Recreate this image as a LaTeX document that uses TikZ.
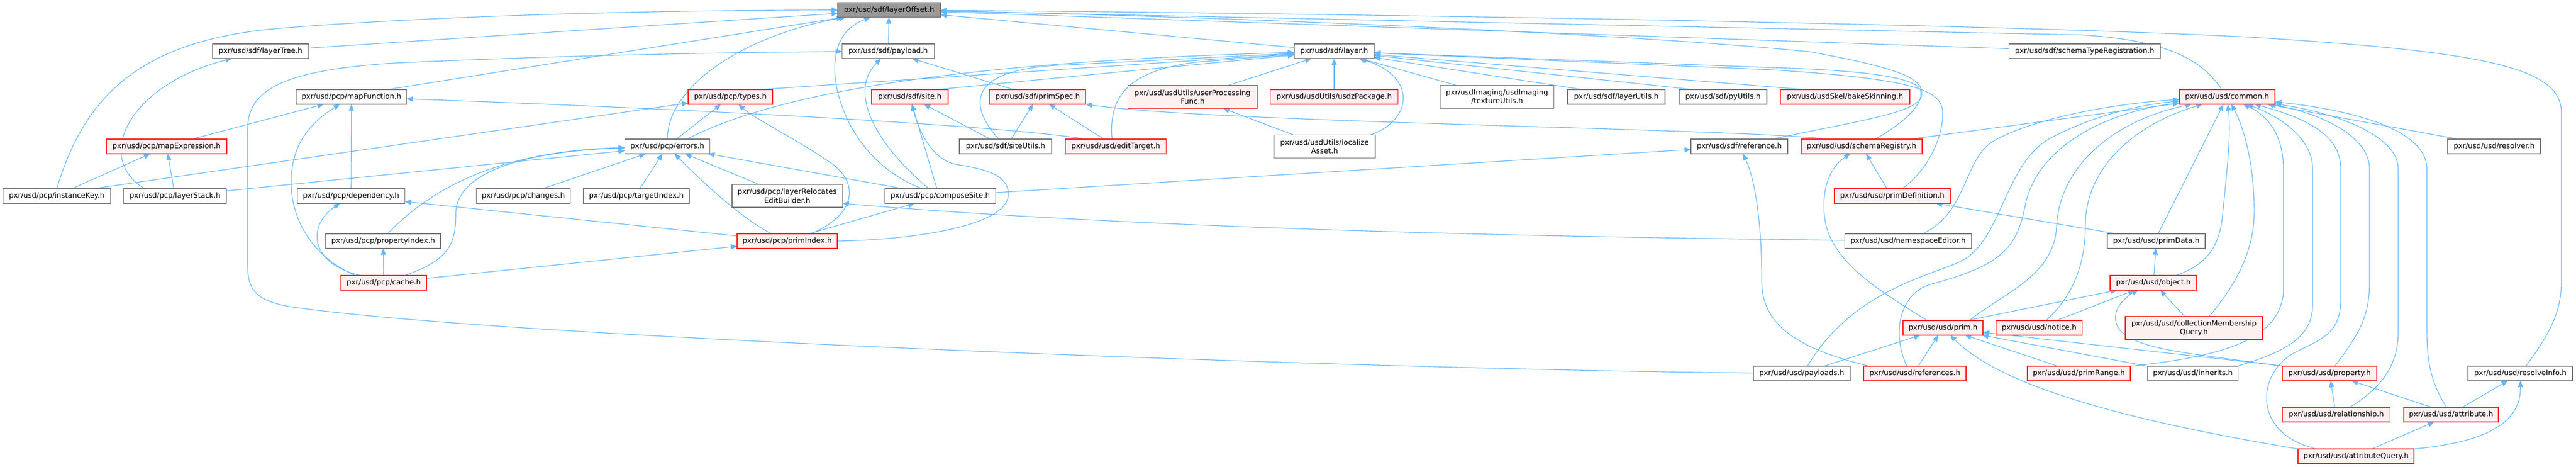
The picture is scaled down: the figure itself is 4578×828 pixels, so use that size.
\documentclass[tikz,border=0pt]{standalone}
\usepackage{fontspec}
\newfontfamily\dv{DejaVu Sans}
\usetikzlibrary{arrows.meta}
\definecolor{edgeblue}{HTML}{63B8FF}
\definecolor{boxgray}{HTML}{7A7A7A}
\definecolor{redfill}{HTML}{FFF0F0}
\definecolor{boxred}{HTML}{FF2424}
\definecolor{rootfill}{HTML}{999999}
\definecolor{rootdraw}{HTML}{666666}
\pgfdeclarelayer{bg}
\pgfsetlayers{bg,main}
\tikzset{
  nb/.style={draw=boxgray, fill=white, line width=1.1pt, minimum height=19.5pt, inner sep=0pt, outer sep=0pt, align=center, font=\dv\fontsize{9.7pt}{11.3pt}\selectfont, text=black},
  rb/.style={nb, draw=boxred, fill=redfill},
  rootbox/.style={nb, draw=rootdraw, fill=rootfill},
  two/.style={minimum height=30.5pt},
  wd/.style={minimum width=#1*0.75pt},
  edge/.style={draw=edgeblue, line width=0.85pt, -{Triangle[length=8.5pt,width=7pt]}},
}
\begin{document}
\begin{tikzpicture}[x=0.75pt,y=-0.75pt]
\begin{pgfonlayer}{bg}
\fill[white] (0,0) rectangle (4578,828);
\end{pgfonlayer}
\useasboundingbox (0,0) rectangle (4578,828);
% row 1
\node[rootbox, wd=182] (layerOffset) at (1580,17.7) {pxr/usd/sdf/layerOffset.h};
% row 2
\node[nb, wd=171] (layerTree) at (463,91) {pxr/usd/sdf/layerTree.h};
\node[nb, wd=164] (payload) at (1578.5,91) {pxr/usd/sdf/payload.h};
\node[nb, wd=142] (layer) at (2371,91) {pxr/usd/sdf/layer.h};
\node[nb, wd=269] (schemaTypeRegistration) at (3704.7,91) {pxr/usd/sdf/schemaTypeRegistration.h};
% row 3
\node[nb, wd=196] (mapFunction) at (624.5,172) {pxr/usd/pcp/mapFunction.h};
\node[rb, wd=150] (types) at (1298,172) {pxr/usd/pcp/types.h};
\node[rb, wd=136] (site) at (1617,172) {pxr/usd/sdf/site.h};
\node[rb, wd=171] (primSpec) at (1844,172) {pxr/usd/sdf/primSpec.h};
\node[rb, two, wd=230] (userProcessingFunc) at (2119.5,172) {pxr/usd/usdUtils/userProcessing\\Func.h};
\node[rb, wd=227] (usdzPackage) at (2371,172) {pxr/usd/usdUtils/usdzPackage.h};
\node[nb, two, wd=202] (textureUtils) at (2660.6,172) {pxr/usdImaging/usdImaging\\/textureUtils.h};
\node[nb, wd=173] (layerUtils) at (2872.5,172) {pxr/usd/sdf/layerUtils.h};
\node[nb, wd=155.5] (pyUtils) at (3062,172) {pxr/usd/sdf/pyUtils.h};
\node[rb, wd=230] (bakeSkinning) at (3279,172) {pxr/usd/usdSkel/bakeSkinning.h};
\node[rb, wd=170] (common) at (3958,172) {pxr/usd/usd/common.h};
% row 4
\node[rb, wd=214] (mapExpression) at (296,260) {pxr/usd/pcp/mapExpression.h};
\node[nb, wd=151] (errors) at (1186,260) {pxr/usd/pcp/errors.h};
\node[nb, wd=164] (siteUtils) at (1787,260) {pxr/usd/sdf/siteUtils.h};
\node[rb, wd=179] (editTarget) at (1983,260) {pxr/usd/usd/editTarget.h};
\node[nb, two, wd=180] (localizeAsset) at (2354,260) {pxr/usd/usdUtils/localize\\Asset.h};
\node[nb, wd=172] (reference) at (3091,260) {pxr/usd/sdf/reference.h};
\node[rb, wd=215] (schemaRegistry) at (3308.3,260) {pxr/usd/usd/schemaRegistry.h};
\node[nb, wd=165] (resolver) at (4432.5,260) {pxr/usd/usd/resolver.h};
% row 5
\node[nb, wd=191.5] (instanceKey) at (101,348) {pxr/usd/pcp/instanceKey.h};
\node[nb, wd=183] (layerStack) at (311,348) {pxr/usd/pcp/layerStack.h};
\node[nb, wd=191] (dependency) at (624,348) {pxr/usd/pcp/dependency.h};
\node[nb, wd=167] (changes) at (930,348) {pxr/usd/pcp/changes.h};
\node[nb, wd=188] (targetIndex) at (1131,348) {pxr/usd/pcp/targetIndex.h};
\node[nb, two, wd=196.5] (layerRelocatesEditBuilder) at (1399,347.7) {pxr/usd/pcp/layerRelocates\\EditBuilder.h};
\node[nb, wd=196.6] (composeSite) at (1671,348) {pxr/usd/pcp/composeSite.h};
\node[rb, wd=206] (primDefinition) at (3363,348) {pxr/usd/usd/primDefinition.h};
% row 6
\node[nb, wd=204] (propertyIndex) at (681,428) {pxr/usd/pcp/propertyIndex.h};
\node[rb, wd=178] (primIndex) at (1399,428) {pxr/usd/pcp/primIndex.h};
\node[nb, wd=225] (namespaceEditor) at (3391,428) {pxr/usd/usd/namespaceEditor.h};
\node[nb, wd=174] (primData) at (3832,428) {pxr/usd/usd/primData.h};
% row 7
\node[rb, wd=152] (cache) at (682,502) {pxr/usd/pcp/cache.h};
\node[rb, wd=154] (object) at (3827,502) {pxr/usd/usd/object.h};
% row 8
\node[rb, wd=142] (prim) at (3453,582) {pxr/usd/usd/prim.h};
\node[rb, wd=153] (notice) at (3624,582) {pxr/usd/usd/notice.h};
\node[rb, two, wd=244] (CMQ) at (3899,582.5) {pxr/usd/usd/collectionMembership\\Query.h};
% row 9
\node[nb, wd=172] (payloads) at (3202,663) {pxr/usd/usd/payloads.h};
\node[rb, wd=182] (references) at (3403,663) {pxr/usd/usd/references.h};
\node[rb, wd=183] (primRange) at (3694.5,663) {pxr/usd/usd/primRange.h};
\node[nb, wd=161] (inherits) at (3897,663) {pxr/usd/usd/inherits.h};
\node[rb, wd=168] (property) at (4140,663) {pxr/usd/usd/property.h};
\node[nb, wd=186] (resolveInfo) at (4479,663) {pxr/usd/usd/resolveInfo.h};
% row 10
\node[rb, wd=191] (relationship) at (4152,736) {pxr/usd/usd/relationship.h};
\node[rb, wd=168] (attribute) at (4356,736) {pxr/usd/usd/attribute.h};
% row 11
\node[rb, wd=206] (attributeQuery) at (4187,810) {pxr/usd/usd/attributeQuery.h};

\begin{pgfonlayer}{bg}
% into layerOffset
\draw[edge] (layerTree) -- (layerOffset);
\draw[edge] (payload) -- (layerOffset);
\draw[edge] (layer) -- (layerOffset);
\draw[edge] ([xshift=48pt]mapFunction.north) -- (layerOffset);
\draw[edge] (errors.north) .. controls (1186,150) and (1330,60) .. (layerOffset);
\draw[edge] (instanceKey.north) .. controls (150,170) and (250,70) .. (500,50) .. controls (800,26) and (1200,18) .. (layerOffset);
\draw[edge] ([xshift=-24pt]composeSite.north) .. controls (1520,290) and (1478,170) .. (1484,110) .. controls (1488,65) and (1510,45) .. (layerOffset);
\draw[edge] ([xshift=-7pt]common.north) .. controls (3915,110) and (3860,72) .. (3700,62) -- (layerOffset);
\draw[edge] (schemaTypeRegistration) -- (layerOffset);
\draw[edge] ([xshift=7.5pt]resolveInfo.north) .. controls (4525,600) and (4552,560) .. (4552,500) -- (4552,200) .. controls (4552,120) and (4420,92) .. (4000,66) .. controls (3500,40) and (2200,22) .. (layerOffset);
\draw[edge] ([xshift=44pt]reference.north) .. controls (3300,215) and (3410,200) .. (3415,170) .. controls (3420,140) and (3380,122) .. (3217,92) .. controls (2900,60) and (2200,30) .. (layerOffset);
% layerTree, payload
\draw[edge] ([xshift=-40.5pt]layerStack.north) .. controls (165,280) and (230,150) .. (layerTree);
\draw[edge] (payloads) .. controls (2400,655) and (900,600) .. (520,545) .. controls (455,535) and (440,515) .. (440,470) -- (440,230) .. controls (440,160) and (500,125) .. (700,112) .. controls (1000,98) and (1300,93) .. (payload);
\draw[edge] (primSpec) -- (payload);
\draw[edge] ([xshift=-15pt]composeSite.north) .. controls (1560,260) and (1505,165) .. (payload);
% into layer
\draw[edge] ([xshift=38pt]types.north) -- (layer);
\draw[edge] ([xshift=26pt]errors.north) .. controls (1380,165) and (1700,110) .. (layer);
\draw[edge] ([xshift=36pt]site.north) -- (layer);
\draw[edge] ([xshift=-9pt]siteUtils.north) .. controls (1715,180) and (1725,120) .. (1900,115) -- (layer);
\draw[edge] ([xshift=-5pt]editTarget.north) .. controls (1970,175) and (2000,125) .. (2130,110) -- (layer);
\draw[edge] ([xshift=47pt]userProcessingFunc.north) -- (layer);
\draw[edge] (usdzPackage) -- (layer);
\draw[edge] ([xshift=60.5pt]localizeAsset.north) .. controls (2510,215) and (2520,135) .. (layer);
\draw[edge] ([xshift=-53.7pt]textureUtils.north) -- (layer);
\draw[edge] ([xshift=-45.4pt]layerUtils.north) -- (layer);
\draw[edge] ([xshift=-39pt]pyUtils.north) -- (layer);
\draw[edge] ([xshift=-54pt]bakeSkinning.north) -- (layer);
\draw[edge] ([xshift=18pt]schemaRegistry.north) .. controls (3390,215) and (3422,180) .. (3412,158) .. controls (3400,138) and (3320,125) .. (3150,120) -- (layer);
\draw[edge] ([xshift=13pt]primDefinition.north) .. controls (3430,300) and (3456,235) .. (3452,195) .. controls (3447,160) and (3400,140) .. (3150,124) -- (layer);
% into mapFunction, mapExpression
\draw[edge] ([xshift=34pt]mapExpression.north) -- (mapFunction);
\draw[edge] ([xshift=-38pt]cache.north) .. controls (520,440) and (500,330) .. (530,260) .. controls (548,220) and (585,197) .. (mapFunction);
\draw[edge] (dependency) -- (mapFunction);
\draw[edge] ([xshift=-40.5pt]editTarget.north) .. controls (1800,225) and (1300,196) .. (mapFunction);
\draw[edge] ([xshift=20pt]instanceKey.north) -- (mapExpression);
\draw[edge] (layerStack) -- (mapExpression);
% into types
\draw[edge] ([xshift=48pt]instanceKey.north) -- (types);
\draw[edge] ([xshift=12pt]errors.north) -- (types);
\draw[edge] ([xshift=31.5pt]primIndex.north) .. controls (1525,380) and (1528,320) .. (1470,285) .. controls (1420,250) and (1340,210) .. (types);
% into errors
\draw[edge] (layerStack) -- (errors);
\draw[edge] ([xshift=6pt]propertyIndex.north) .. controls (760,340) and (880,268) .. (errors);
\draw[edge] ([xshift=27.5pt]cache.north) .. controls (800,462) and (810,430) .. (810,380) .. controls (810,300) and (950,268) .. (errors);
\draw[edge] ([xshift=25.5pt]changes.north) -- (errors);
\draw[edge] ([xshift=4.5pt]targetIndex.north) -- (errors);
\draw[edge] ([xshift=-21pt]primIndex.north) .. controls (1318,388) and (1245,320) .. (errors);
\draw[edge] ([xshift=-37.5pt]layerRelocatesEditBuilder.north) -- (errors);
\draw[edge] ([xshift=-49pt]composeSite.north) -- (errors);
% pcp misc
\draw[edge] ([xshift=-30pt]cache.north) .. controls (550,470) and (545,400) .. (dependency);
\draw[edge] (primIndex) -- (dependency);
\draw[edge] (cache) -- (propertyIndex);
\draw[edge] (cache) -- (primIndex);
\draw[edge] ([xshift=-4.5pt]composeSite.north) -- (site);
\draw[edge] ([xshift=-20pt]siteUtils.north) -- (site);
\draw[edge] (primIndex.east) .. controls (1640,425) and (1792,398) .. (1792,345) .. controls (1792,310) and (1750,300) .. (1700,292) .. controls (1660,285) and (1635,240) .. (site);
\draw[edge] ([xshift=7.5pt]siteUtils.north) -- (primSpec);
\draw[edge] ([xshift=-16pt]editTarget.north) -- (primSpec);
\draw[edge] ([xshift=-47pt]schemaRegistry.north) .. controls (3100,228) and (2150,218) .. (primSpec.south east);
\draw[edge] ([xshift=-41pt]localizeAsset.north) -- (userProcessingFunc);
\draw[edge] (composeSite) -- (reference);
\draw[edge] ([xshift=28.5pt]primIndex.north) -- (composeSite);
\draw[edge] (namespaceEditor) .. controls (2900,422) and (2100,412) .. ([yshift=-10pt]layerRelocatesEditBuilder.east);
\draw[edge] ([xshift=-61pt]references.north) .. controls (3200,620) and (3131,580) .. (3131,500) .. controls (3131,400) and (3120,320) .. (reference);
\draw[edge] ([xshift=-7pt]primDefinition.north) -- (schemaRegistry);
\draw[edge] ([xshift=-21pt]prim.north) .. controls (3330,510) and (3248,460) .. (3242,380) .. controls (3237,320) and (3262,290) .. (schemaRegistry);
% into common
\draw[edge] ([xshift=65pt]schemaRegistry.north) -- (common);
\draw[edge] ([xshift=19pt]namespaceEditor.north) .. controls (3495,380) and (3490,285) .. (3540,252) .. controls (3620,205) and (3780,182) .. (common);
\draw[edge] ([xshift=7.5pt]payloads.north) .. controls (3290,520) and (3420,492) .. (3480,466) .. controls (3560,432) and (3560,285) .. (3650,242) .. controls (3720,206) and (3800,186) .. (common);
\draw[edge] ([xshift=-10.5pt]references.north) .. controls (3360,590) and (3378,520) .. (3430,505) .. controls (3560,470) and (3585,440) .. (3600,360) .. controls (3625,255) and (3750,198) .. (common);
\draw[edge] ([xshift=35pt]prim.north) .. controls (3560,520) and (3652,490) .. (3655,400) .. controls (3660,300) and (3750,215) .. (common);
\draw[edge] ([xshift=9pt]notice.north) .. controls (3690,520) and (3706,460) .. (3706,400) .. controls (3706,300) and (3790,222) .. (common);
\draw[edge] ([xshift=2.5pt]primData.north) -- (common);
\draw[edge] ([xshift=30pt]object.north) .. controls (3920,470) and (3945,440) .. (3950,380) .. controls (3958,300) and (3965,240) .. (common);
\draw[edge] ([xshift=20pt]CMQ.north) .. controls (3970,510) and (4005,450) .. (4006,380) .. controls (4007,300) and (3990,230) .. (common);
\draw[edge] (primRange.north east) .. controls (3960,632) and (4050,600) .. (4058,520) -- (4058,300) .. controls (4058,240) and (4030,205) .. (common);
\draw[edge] ([xshift=59pt]inherits.north) .. controls (4060,625) and (4110,600) .. (4110,540) -- (4110,300) .. controls (4110,250) and (4060,210) .. (common);
\draw[edge] ([xshift=-52.5pt]attributeQuery.north) .. controls (4000,770) and (4010,660) .. (4080,625) .. controls (4130,600) and (4160,590) .. (4160,530) -- (4160,300) .. controls (4160,240) and (4100,210) .. (common);
\draw[edge] ([xshift=7pt]property.north) .. controls (4195,590) and (4211,560) .. (4211,500) -- (4211,300) .. controls (4211,240) and (4120,200) .. (common);
\draw[edge] ([xshift=18pt]relationship.north) .. controls (4230,690) and (4262,650) .. (4262,590) -- (4262,300) .. controls (4262,240) and (4150,200) .. (common);
\draw[edge] ([xshift=-6pt]attribute.north) .. controls (4320,680) and (4313,640) .. (4313,590) -- (4313,300) .. controls (4313,230) and (4180,195) .. (common);
\draw[edge] ([xshift=-48pt]resolver.north) -- (common);
% usd lower part
\draw[edge] ([xshift=-53pt]primData.north) -- (primDefinition);
\draw[edge] (object) -- (primData);
\draw[edge] ([xshift=32pt]prim.north) -- (object);
\draw[edge] ([xshift=23pt]notice.north) -- (object);
\draw[edge] ([xshift=-63pt]property.north) .. controls (3880,625) and (3770,620) .. (3760,570) .. controls (3755,540) and (3790,520) .. (object);
\draw[edge] ([xshift=-12pt]CMQ.north) -- (object);
\draw[edge] ([xshift=29.6pt]payloads.north) -- (prim);
\draw[edge] ([xshift=4.5pt]references.north) -- (prim);
\draw[edge] (attributeQuery.north west) .. controls (3800,750) and (3560,690) .. (prim);
\draw[edge] ([xshift=-28pt]primRange.north) -- (prim);
\draw[edge] (inherits.north west) -- (prim);
\draw[edge] ([xshift=-60pt]property.north) -- (prim);
\draw[edge] ([xshift=-2pt]relationship.north) -- (property);
\draw[edge] ([xshift=-26pt]attribute.north) -- (property);
\draw[edge] ([xshift=15pt]attribute.north) -- (resolveInfo);
\draw[edge] (attributeQuery.north east) .. controls (4420,785) and (4480,750) .. (resolveInfo);
\draw[edge] ([xshift=21pt]attributeQuery.north) -- (attribute);
\end{pgfonlayer}
\end{tikzpicture}
\end{document}
